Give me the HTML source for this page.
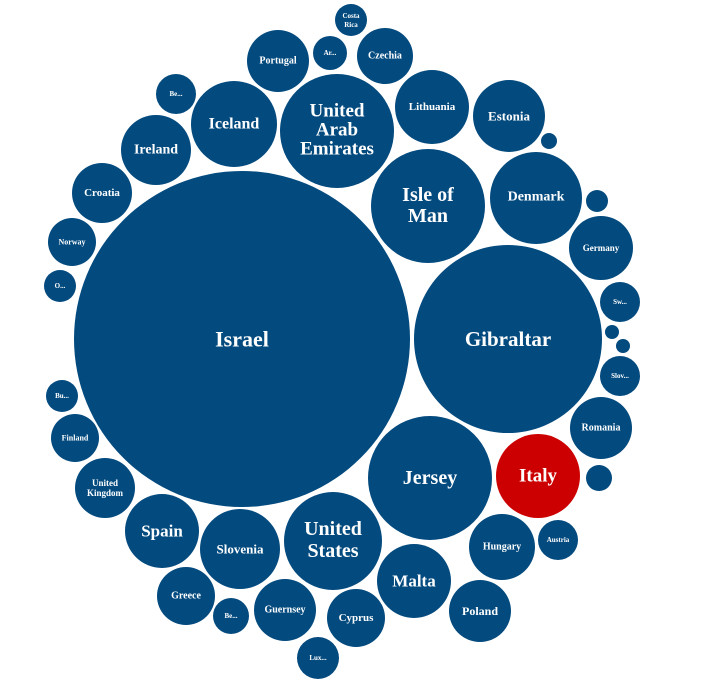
<!DOCTYPE html>
<html><head><meta charset="utf-8"><style>
html,body{margin:0;padding:0;background:#fff;}
svg{display:block;}
text{font-family:"Liberation Serif",serif;font-weight:bold;fill:#fff;text-anchor:middle;dominant-baseline:central;}
circle{fill:#034a7e;}
</style></head><body>
<svg width="713" height="683" viewBox="0 0 713 683">
<circle cx="242" cy="339" r="168"/><text x="242" y="339" font-size="22">Israel</text>
<circle cx="508" cy="339" r="94"/><text x="508" y="339" font-size="21">Gibraltar</text>
<circle cx="430" cy="478" r="62"/><text x="430" y="478" font-size="20">Jersey</text>
<circle cx="538" cy="476" r="42" style="fill:#c00"/><text x="538" y="476" font-size="19">Italy</text>
<circle cx="428" cy="206" r="57"/><text x="428" y="195" font-size="20">Isle of</text><text x="428" y="216" font-size="20">Man</text>
<circle cx="337" cy="131" r="57"/><text x="337" y="111" font-size="19">United</text><text x="337" y="130" font-size="19">Arab</text><text x="337" y="149" font-size="19">Emirates</text>
<circle cx="536" cy="198" r="46"/><text x="536" y="197" font-size="14">Denmark</text>
<circle cx="509" cy="116" r="36"/><text x="509" y="116" font-size="13">Estonia</text>
<circle cx="432" cy="107" r="37"/><text x="432" y="107" font-size="11">Lithuania</text>
<circle cx="385" cy="56" r="28"/><text x="385" y="56" font-size="10">Czechia</text>
<circle cx="351" cy="20" r="16"/><text x="351" y="16" font-size="7">Costa</text><text x="351" y="25" font-size="7">Rica</text>
<circle cx="330" cy="53" r="17"/><text x="330" y="53" font-size="7">Ar...</text>
<circle cx="278" cy="61" r="31"/><text x="278" y="61" font-size="10">Portugal</text>
<circle cx="234" cy="124" r="43"/><text x="234" y="124" font-size="16">Iceland</text>
<circle cx="176" cy="94" r="20"/><text x="176" y="94" font-size="7">Be...</text>
<circle cx="156" cy="150" r="35"/><text x="156" y="150" font-size="14">Ireland</text>
<circle cx="102" cy="193" r="30"/><text x="102" y="193" font-size="11">Croatia</text>
<circle cx="72" cy="242" r="24"/><text x="72" y="242" font-size="8">Norway</text>
<circle cx="60" cy="286" r="16"/><text x="60" y="286" font-size="7">O...</text>
<circle cx="62" cy="396" r="16"/><text x="62" y="396" font-size="7">Bu...</text>
<circle cx="75" cy="438" r="24"/><text x="75" y="438" font-size="8">Finland</text>
<circle cx="105" cy="488" r="30"/><text x="105" y="483" font-size="9">United</text><text x="105" y="493" font-size="9">Kingdom</text>
<circle cx="162" cy="531" r="37"/><text x="162" y="531" font-size="17">Spain</text>
<circle cx="240" cy="549" r="40"/><text x="240" y="549" font-size="13">Slovenia</text>
<circle cx="333" cy="541" r="49"/><text x="333" y="529" font-size="20">United</text><text x="333" y="551" font-size="20">States</text>
<circle cx="186" cy="596" r="29"/><text x="186" y="596" font-size="10">Greece</text>
<circle cx="231" cy="616" r="18"/><text x="231" y="616" font-size="7">Be...</text>
<circle cx="285" cy="610" r="31"/><text x="285" y="610" font-size="10">Guernsey</text>
<circle cx="356" cy="618" r="29"/><text x="356" y="618" font-size="11">Cyprus</text>
<circle cx="318" cy="658" r="21"/><text x="318" y="658" font-size="7">Lux...</text>
<circle cx="414" cy="581" r="37"/><text x="414" y="581" font-size="17">Malta</text>
<circle cx="480" cy="611" r="31"/><text x="480" y="611" font-size="12">Poland</text>
<circle cx="502" cy="547" r="33"/><text x="502" y="547" font-size="10">Hungary</text>
<circle cx="558" cy="540" r="20"/><text x="558" y="540" font-size="7">Austria</text>
<circle cx="599" cy="478" r="13"/>
<circle cx="601" cy="428" r="31"/><text x="601" y="428" font-size="10">Romania</text>
<circle cx="620" cy="376" r="20"/><text x="620" y="376" font-size="7">Slov...</text>
<circle cx="623" cy="346" r="7"/>
<circle cx="612" cy="332" r="7"/>
<circle cx="620" cy="302" r="20"/><text x="620" y="302" font-size="7">Sw...</text>
<circle cx="601" cy="248" r="32"/><text x="601" y="248" font-size="9">Germany</text>
<circle cx="597" cy="201" r="11"/>
<circle cx="549" cy="141" r="8"/>
</svg>
</body></html>
